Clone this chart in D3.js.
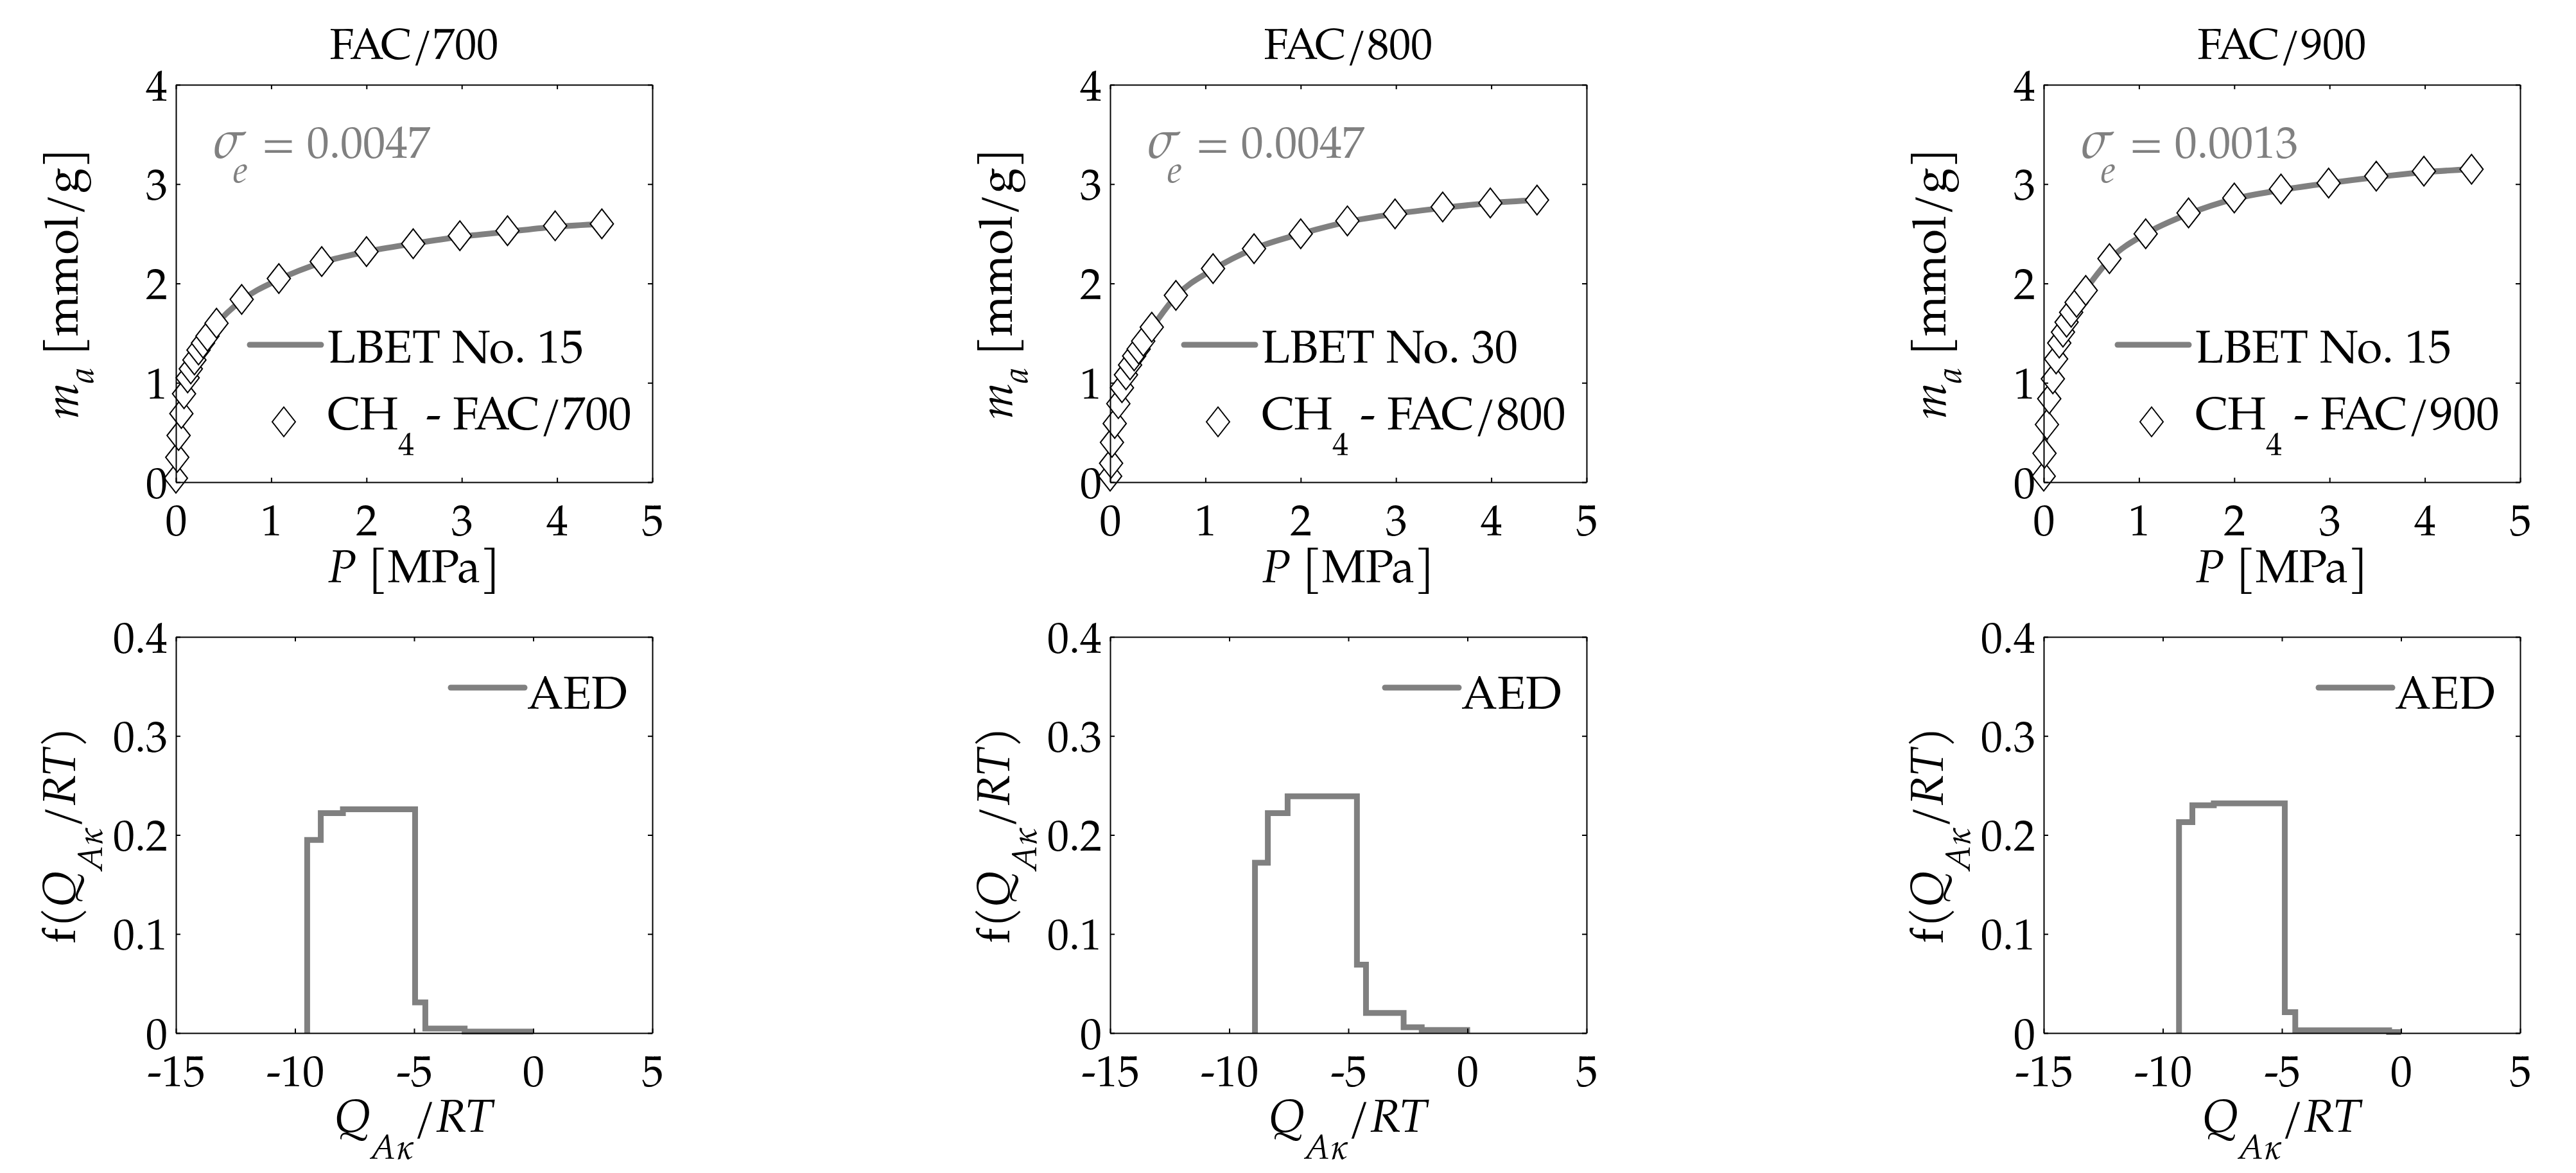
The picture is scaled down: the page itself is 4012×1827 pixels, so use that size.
<!DOCTYPE html>
<html><head><meta charset="utf-8">
<script src="https://cdn.jsdelivr.net/npm/d3@7"></script>
<style>body{margin:0;background:#fff}</style>
</head><body>
<script>
// ---------- DATA ----------
const titles = ["FAC/700", "FAC/800", "FAC/900"];
const sigmaValues = ["0.0047", "0.0047", "0.0013"];
const fitNames = ["LBET No. 15", "LBET No. 30", "LBET No. 15"];
const sampleNames = ["FAC/700", "FAC/800", "FAC/900"];

const pTicks = [0, 1, 2, 3, 4, 5];
const mTicks = [0, 1, 2, 3, 4];
const qTicks = [-15, -10, -5, 0, 5];
const fTicks = [0, 0.1, 0.2, 0.3, 0.4];

const pressure700 = [0, 0.014, 0.028, 0.057, 0.085, 0.123, 0.156, 0.194, 0.237, 0.284, 0.331, 0.426, 0.69, 1.08, 1.53, 2.0, 2.49, 2.98, 3.48, 3.98, 4.47];
const uptake700   = [0.04, 0.25, 0.47, 0.69, 0.89, 1.05, 1.14, 1.23, 1.33, 1.40, 1.47, 1.60, 1.84, 2.05, 2.22, 2.32, 2.40, 2.48, 2.53, 2.58, 2.60];
const fit700      = [0.00, 0.22, 0.45, 0.70, 0.88, 1.04, 1.14, 1.24, 1.33, 1.40, 1.47, 1.59, 1.83, 2.04, 2.21, 2.32, 2.40, 2.47, 2.52, 2.57, 2.60];

const pressure800 = [0, 0.010, 0.019, 0.048, 0.086, 0.124, 0.166, 0.209, 0.252, 0.299, 0.347, 0.437, 0.69, 1.08, 1.51, 2.0, 2.49, 2.99, 3.49, 3.99, 4.48];
const uptake800   = [0.06, 0.19, 0.40, 0.59, 0.79, 0.95, 1.08, 1.18, 1.27, 1.34, 1.42, 1.56, 1.88, 2.15, 2.35, 2.50, 2.63, 2.70, 2.77, 2.81, 2.84];
const fit800      = [0.00, 0.18, 0.38, 0.60, 0.80, 0.96, 1.08, 1.18, 1.27, 1.35, 1.42, 1.55, 1.87, 2.14, 2.35, 2.50, 2.62, 2.70, 2.76, 2.81, 2.84];

const pressure900 = [0, 0.008, 0.034, 0.058, 0.096, 0.130, 0.163, 0.202, 0.240, 0.288, 0.345, 0.441, 0.69, 1.07, 1.52, 2.0, 2.49, 2.99, 3.49, 3.99, 4.49];
const uptake900   = [0.06, 0.29, 0.58, 0.84, 1.04, 1.24, 1.40, 1.51, 1.61, 1.71, 1.81, 1.93, 2.25, 2.50, 2.71, 2.86, 2.95, 3.01, 3.08, 3.13, 3.15];
const fit900      = [0.00, 0.27, 0.60, 0.83, 1.05, 1.23, 1.38, 1.51, 1.61, 1.71, 1.81, 1.94, 2.24, 2.50, 2.70, 2.85, 2.94, 3.01, 3.07, 3.12, 3.15];

// AED step distributions: bin edges and heights
const aedEdges700  = [-9.49, -8.92, -7.99, -4.96, -4.53, -2.88, 0.0];
const aedValues700 = [0.195, 0.222, 0.226, 0.031, 0.0046, 0.0015];
const aedEdges800  = [-8.92, -8.38, -7.55, -4.64, -4.26, -2.68, -1.92, 0.11];
const aedValues800 = [0.172, 0.222, 0.239, 0.069, 0.0203, 0.0058, 0.003];
const aedEdges900  = [-9.32, -8.76, -7.86, -4.88, -4.44, -0.5, 0.0];
const aedValues900 = [0.213, 0.230, 0.232, 0.021, 0.0027, 0.001];

const pressures = [pressure700, pressure800, pressure900];
const uptakes = [uptake700, uptake800, uptake900];
const fits = [fit700, fit800, fit900];
const aedEdges = [aedEdges700, aedEdges800, aedEdges900];
const aedValues = [aedValues700, aedValues800, aedValues900];

// ---------- LAYOUT ----------
const W = 4012, H = 1827;
const FONT = "TeX Gyre Pagella";
const panelLeft = [274, 1729, 3183], pw = 742;
const topY = 132, topH = 619, botY = 992, botH = 617;
const grey = "#808080";
const tickFS = 68, labelFS = 72, legendFS = 72, titleFS = 68;

const svg = d3.select("body").append("svg").attr("width", W).attr("height", H)
  .style("font-family", FONT);
svg.append("rect").attr("width", W).attr("height", H).attr("fill", "#fff");

function txt(sel) { return sel.append("text").style("font-family", FONT).attr("fill", "#000"); }

function drawAxes(g, x, y, xt, yt, w, h) {
  const tl = 7;
  const ax = g.append("g").attr("transform", `translate(0,${h})`)
    .call(d3.axisBottom(x).tickValues(xt).tickSize(-tl).tickSizeOuter(0).tickFormat(d => String(d)));
  const ay = g.append("g")
    .call(d3.axisLeft(y).tickValues(yt).tickSize(-tl).tickSizeOuter(0).tickFormat(d => String(d)));
  const at = g.append("g")
    .call(d3.axisTop(x).tickValues(xt).tickSize(-tl).tickSizeOuter(0).tickFormat(""));
  const ar = g.append("g").attr("transform", `translate(${w},0)`)
    .call(d3.axisRight(y).tickValues(yt).tickSize(-tl).tickSizeOuter(0).tickFormat(""));
  [ax, ay, at, ar].forEach(a => {
    a.attr("font-family", null).attr("font-size", null);
    a.selectAll("path,line").attr("stroke", "#000").attr("stroke-width", 2);
  });
  ax.selectAll("text").attr("y", 83).attr("dy", null).attr("font-size", tickFS)
    .attr("fill", "#000").style("font-family", FONT);
  ay.selectAll("text").attr("x", -13).attr("y", 24).attr("dy", null).attr("font-size", tickFS)
    .attr("fill", "#000").style("font-family", FONT);
}

for (let i = 0; i < 3; i++) {
  const gx = panelLeft[i];

  // ===== TOP PANEL =====
  const g = svg.append("g").attr("transform", `translate(${gx},${topY})`);
  const x = d3.scaleLinear().domain([0, 5]).range([0, pw]);
  const y = d3.scaleLinear().domain([0, 4]).range([topH, 0]);

  txt(g).attr("x", pw / 2).attr("y", -40).attr("text-anchor", "middle")
    .attr("font-size", titleFS).text(titles[i]);

  const fitPts = pressures[i].map((p, k) => [p, fits[i][k]]);
  g.append("path").datum(fitPts)
    .attr("d", d3.line().x(d => x(d[0])).y(d => y(d[1])).curve(d3.curveMonotoneX))
    .attr("fill", "none").attr("stroke", grey).attr("stroke-width", 9)
    .attr("stroke-linejoin", "round").attr("stroke-linecap", "round");

  const diamond = "M0,-23L18,0L0,23L-18,0Z";
  const pts = pressures[i].map((p, k) => [p, uptakes[i][k]]);
  g.selectAll("path.pt").data(pts).enter().append("path").attr("class", "pt")
    .attr("d", diamond)
    .attr("transform", d => `translate(${x(d[0])},${y(d[1])})`)
    .attr("fill", "#fff").attr("stroke", "#000").attr("stroke-width", 2);

  drawAxes(g, x, y, pTicks, mTicks, pw, topH);

  // sigma annotation
  const s = txt(g).attr("y", 114).attr("font-size", 70).attr("fill", grey);
  s.append("tspan").attr("x", 56).attr("font-style", "italic").attr("font-size", 84).text("σ");
  s.append("tspan").attr("x", 89).attr("dy", 38).attr("font-style", "italic").attr("font-size", 58).text("e");
  s.append("tspan").attr("x", 133).attr("dy", -38).text("= " + sigmaValues[i]);

  // legend
  g.append("line").attr("x1", 115).attr("x2", 226).attr("y1", 405).attr("y2", 405)
    .attr("stroke", grey).attr("stroke-width", 9).attr("stroke-linecap", "round");
  txt(g).attr("x", 236).attr("y", 433).attr("font-size", legendFS).text(fitNames[i]);
  g.append("path").attr("d", diamond).attr("transform", `translate(168,525)`)
    .attr("fill", "#fff").attr("stroke", "#000").attr("stroke-width", 2);
  const lt = txt(g).attr("x", 236).attr("y", 537).attr("font-size", legendFS);
  lt.append("tspan").text("CH");
  lt.append("tspan").attr("dy", 40).attr("font-size", 50).text("4");
  lt.append("tspan").attr("dy", -40).text(" - " + sampleNames[i]);

  // axis labels
  const xl = txt(g).attr("x", pw / 2).attr("y", topH + 156).attr("text-anchor", "middle").attr("font-size", labelFS);
  xl.append("tspan").attr("font-style", "italic").text("P");
  xl.append("tspan").text(" [MPa]");
  const yl = txt(g).attr("transform", `translate(-153,${topH / 2}) rotate(-90)`)
    .attr("text-anchor", "middle").attr("font-size", labelFS);
  yl.append("tspan").attr("font-style", "italic").text("m");
  yl.append("tspan").attr("font-style", "italic").attr("font-size", 54).attr("dy", 24).text("a");
  yl.append("tspan").attr("dy", -24).text(" [mmol/g]");

  // ===== BOTTOM PANEL =====
  const b = svg.append("g").attr("transform", `translate(${gx},${botY})`);
  const xq = d3.scaleLinear().domain([-15, 5]).range([0, pw]);
  const yf = d3.scaleLinear().domain([0, 0.4]).range([botH, 0]);

  const e = aedEdges[i], v = aedValues[i];
  const stepPts = [[e[0], 0]];
  v.forEach((val, k) => stepPts.push([e[k], val]));
  stepPts.push([e[e.length - 1], v[v.length - 1]]);
  b.append("path").datum(stepPts)
    .attr("d", d3.line().x(d => xq(d[0])).y(d => yf(d[1])).curve(d3.curveStepAfter))
    .attr("fill", "none").attr("stroke", grey).attr("stroke-width", 9)
    .attr("stroke-linejoin", "miter").attr("stroke-linecap", "butt");

  drawAxes(b, xq, yf, qTicks, fTicks, pw, botH);

  b.append("line").attr("x1", 428).attr("x2", 543).attr("y1", 79).attr("y2", 79)
    .attr("stroke", grey).attr("stroke-width", 9).attr("stroke-linecap", "round");
  txt(b).attr("x", 547).attr("y", 112).attr("font-size", legendFS).text("AED");

  const bx = txt(b).attr("x", pw / 2).attr("y", botH + 154).attr("text-anchor", "middle").attr("font-size", labelFS);
  bx.append("tspan").attr("font-style", "italic").text("Q");
  bx.append("tspan").attr("font-style", "italic").attr("font-size", 54).attr("dy", 42).text("Aκ");
  bx.append("tspan").attr("font-style", "italic").attr("dy", -42).text("/RT");

  const by = txt(b).attr("transform", `translate(-157,${botH / 2}) rotate(-90)`)
    .attr("text-anchor", "middle").attr("font-size", labelFS);
  by.append("tspan").text("f(");
  by.append("tspan").attr("font-style", "italic").text("Q");
  by.append("tspan").attr("font-style", "italic").attr("font-size", 54).attr("dy", 42).text("Aκ");
  by.append("tspan").attr("font-style", "italic").attr("dy", -42).text("/RT");
  by.append("tspan").text(")");
}
</script>
</body></html>
